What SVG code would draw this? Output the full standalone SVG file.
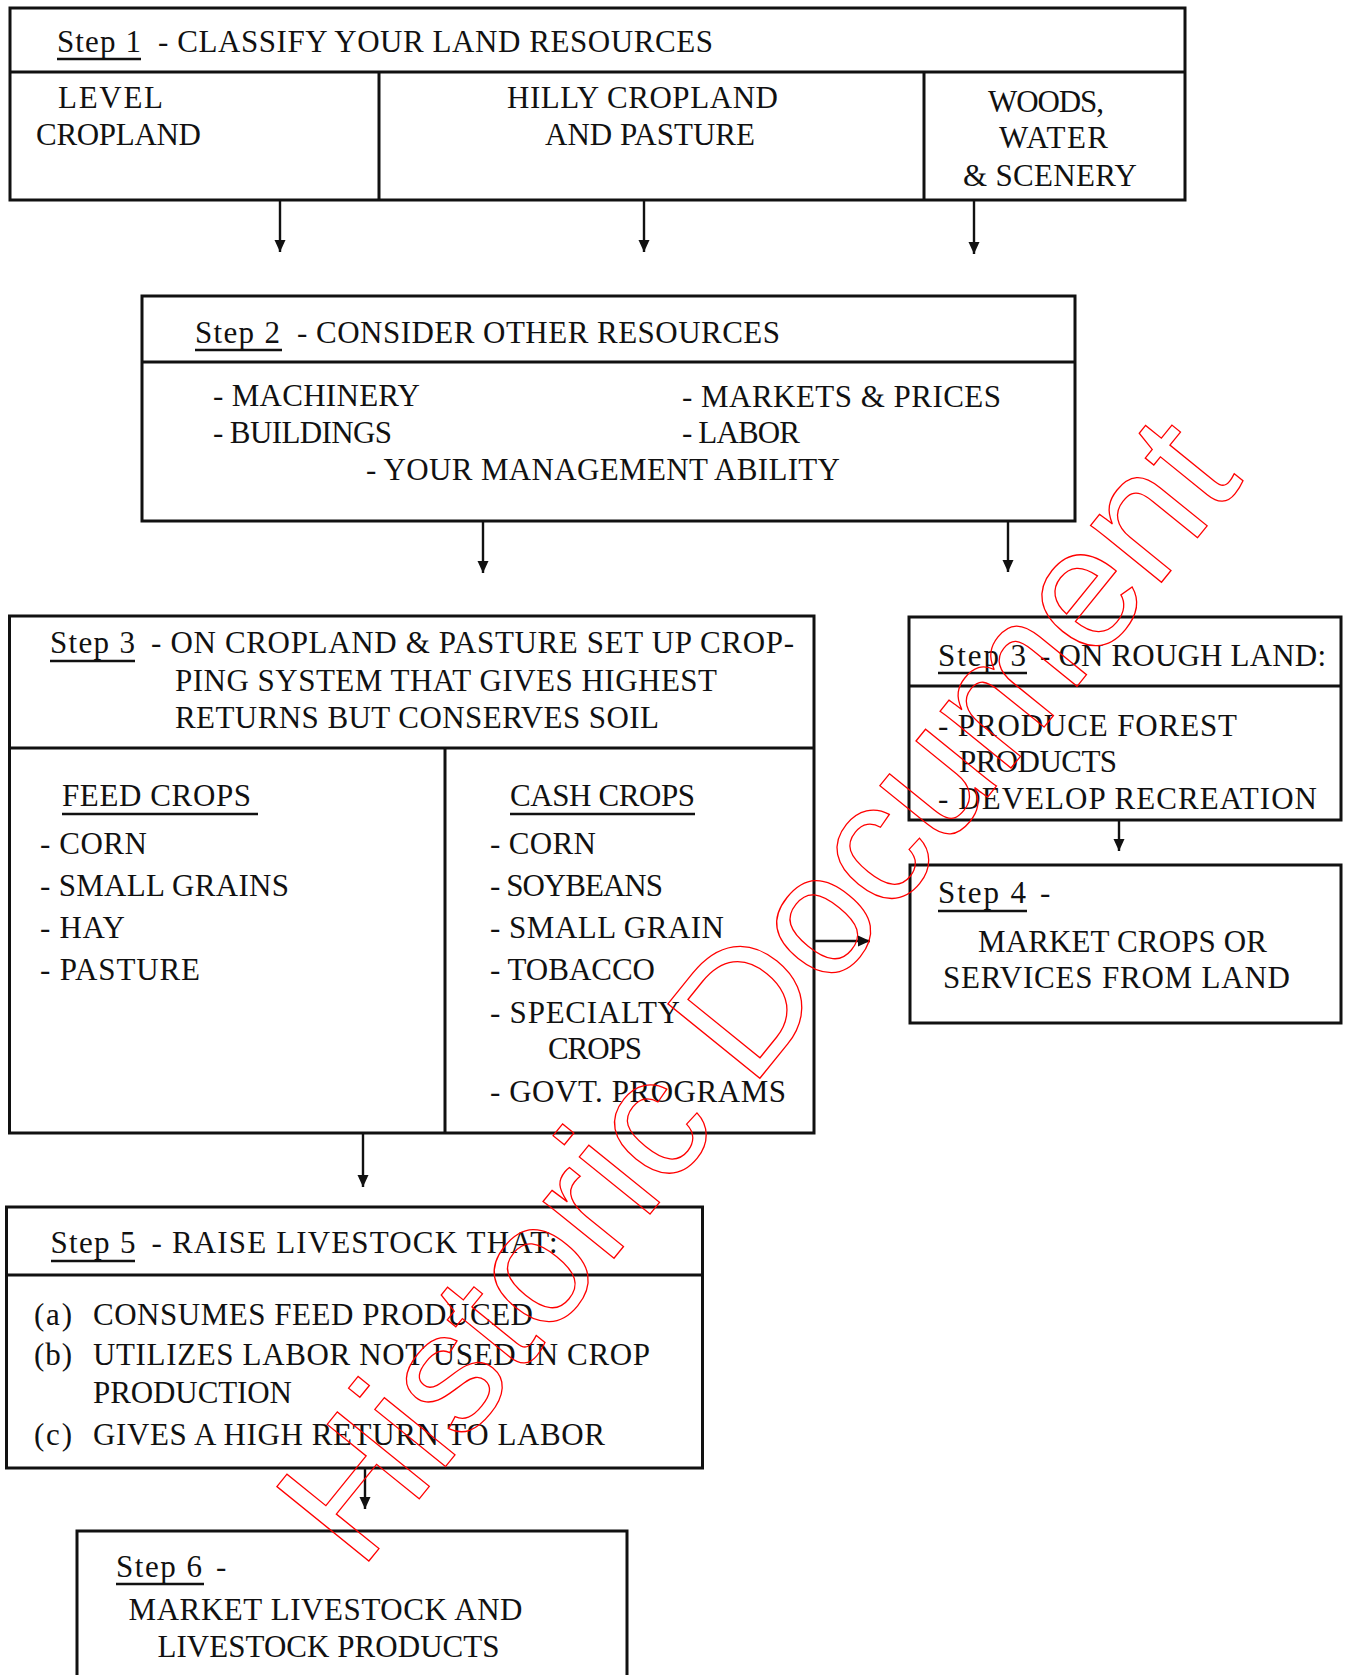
<svg xmlns="http://www.w3.org/2000/svg" width="1346" height="1675" viewBox="0 0 1346 1675">
<defs>
<style>
.box{fill:none;stroke:#111;stroke-width:3}
.ln{stroke:#111;stroke-width:3;fill:none}
.t{font-family:"Liberation Serif","Times New Roman",serif;font-size:31px;fill:#111}
.ul{stroke:#111;stroke-width:2.5}
.con{stroke:#111;stroke-width:2.4;fill:none;marker-end:url(#ah)}
.wm{font-family:"Liberation Sans",Arial,sans-serif;font-size:172px;fill:none;stroke:#ff0000;stroke-width:1.3}
</style>
<marker id="ah" markerUnits="userSpaceOnUse" markerWidth="13" markerHeight="12" refX="12" refY="6" orient="auto">
<path d="M0,0.5 L12,6 L0,11.5 Z" fill="#111"/>
</marker>
</defs>
<rect width="1346" height="1675" fill="#fff"/>

<g id="step1">
<rect class="box" x="10" y="8" width="1175" height="192"/>
<line class="ln" x1="10" y1="72" x2="1185" y2="72"/>
<line class="ln" x1="379" y1="72" x2="379" y2="200"/>
<line class="ln" x1="924" y1="72" x2="924" y2="200"/>
<text class="t" x="57" y="52" textLength="84">Step 1</text>
<line class="ul" x1="57" y1="59" x2="141" y2="59"/>
<text class="t" x="158" y="52" textLength="555">- CLASSIFY YOUR LAND RESOURCES</text>
<text class="t" x="58" y="108" textLength="105">LEVEL</text>
<text class="t" x="36" y="145" textLength="165">CROPLAND</text>
<text class="t" x="507" y="108" textLength="271">HILLY CROPLAND</text>
<text class="t" x="545" y="145" textLength="210">AND PASTURE</text>
<text class="t" x="988" y="112" textLength="116">WOODS,</text>
<text class="t" x="999" y="148" textLength="109">WATER</text>
<text class="t" x="963" y="186" textLength="174">&amp; SCENERY</text>
</g>

<g id="step2">
<rect class="box" x="142" y="296" width="933" height="225"/>
<line class="ln" x1="142" y1="362" x2="1075" y2="362"/>
<text class="t" x="195" y="343" textLength="85">Step 2</text>
<line class="ul" x1="195" y1="350" x2="282" y2="350"/>
<text class="t" x="297" y="343" textLength="483">- CONSIDER OTHER RESOURCES</text>
<text class="t" x="213" y="406" textLength="207">- MACHINERY</text>
<text class="t" x="213" y="443" textLength="179">- BUILDINGS</text>
<text class="t" x="366" y="480" textLength="474">- YOUR MANAGEMENT ABILITY</text>
<text class="t" x="682" y="407" textLength="319">- MARKETS &amp; PRICES</text>
<text class="t" x="682" y="443" textLength="118">- LABOR</text>
</g>

<g id="step3-cropland">
<rect class="box" x="9.5" y="616" width="804.5" height="517"/>
<line class="ln" x1="9.5" y1="748" x2="814" y2="748"/>
<line class="ln" x1="445" y1="748" x2="445" y2="1133"/>
<text class="t" x="50" y="653" textLength="85">Step 3</text>
<line class="ul" x1="50" y1="661" x2="135" y2="661"/>
<text class="t" x="151" y="653" textLength="643">- ON CROPLAND &amp; PASTURE SET UP CROP-</text>
<text class="t" x="175" y="691" textLength="542">PING SYSTEM THAT GIVES HIGHEST</text>
<text class="t" x="175" y="728" textLength="484">RETURNS BUT CONSERVES SOIL</text>
<text class="t" x="62" y="806" textLength="189">FEED CROPS</text>
<line class="ul" x1="62" y1="814" x2="258" y2="814"/>
<text class="t" x="40" y="854" textLength="107">- CORN</text>
<text class="t" x="40" y="896" textLength="249">- SMALL GRAINS</text>
<text class="t" x="40" y="938" textLength="85">- HAY</text>
<text class="t" x="40" y="980" textLength="160">- PASTURE</text>
<text class="t" x="510" y="806" textLength="185">CASH CROPS</text>
<line class="ul" x1="510" y1="814" x2="695" y2="814"/>
<text class="t" x="490" y="854" textLength="106">- CORN</text>
<text class="t" x="490" y="896" textLength="173">- SOYBEANS</text>
<text class="t" x="490" y="938" textLength="234">- SMALL GRAIN</text>
<text class="t" x="490" y="980" textLength="165">- TOBACCO</text>
<text class="t" x="490" y="1023" textLength="190">- SPECIALTY</text>
<text class="t" x="548" y="1059" textLength="94">CROPS</text>
<text class="t" x="490" y="1102" textLength="296">- GOVT. PROGRAMS</text>
</g>

<g id="step3-rough">
<rect class="box" x="909" y="617" width="432" height="203"/>
<line class="ln" x1="909" y1="686" x2="1341" y2="686"/>
<text class="t" x="938" y="666" textLength="88">Step 3</text>
<line class="ul" x1="938" y1="673" x2="1027" y2="673"/>
<text class="t" x="1040" y="666" textLength="286">- ON ROUGH LAND:</text>
<text class="t" x="938" y="736" textLength="299">- PRODUCE FOREST</text>
<text class="t" x="959" y="772" textLength="158">PRODUCTS</text>
<text class="t" x="938" y="809" textLength="379">- DEVELOP RECREATION</text>
</g>

<g id="step4">
<rect class="box" x="910" y="865" width="431" height="158"/>
<text class="t" x="938" y="903" textLength="88">Step 4</text>
<line class="ul" x1="938" y1="911" x2="1027" y2="911"/>
<text class="t" x="1040" y="903">-</text>
<text class="t" x="978" y="952" textLength="289">MARKET CROPS OR</text>
<text class="t" x="943" y="988" textLength="347">SERVICES FROM LAND</text>
</g>

<g id="step5">
<rect class="box" x="6.5" y="1207" width="696" height="261"/>
<line class="ln" x1="6.5" y1="1275" x2="702.5" y2="1275"/>
<text class="t" x="50.5" y="1253" textLength="85">Step 5</text>
<line class="ul" x1="51" y1="1261" x2="135" y2="1261"/>
<text class="t" x="151.5" y="1253" textLength="406">- RAISE LIVESTOCK THAT:</text>
<text class="t" x="34" y="1325" textLength="38">(a)</text>
<text class="t" x="93" y="1325" textLength="440">CONSUMES FEED PRODUCED</text>
<text class="t" x="34" y="1365" textLength="38">(b)</text>
<text class="t" x="93" y="1365" textLength="557">UTILIZES LABOR NOT USED IN CROP</text>
<text class="t" x="93" y="1403" textLength="199">PRODUCTION</text>
<text class="t" x="34" y="1445" textLength="38">(c)</text>
<text class="t" x="93" y="1445" textLength="512">GIVES A HIGH RETURN TO LABOR</text>
</g>

<g id="step6">
<polyline class="ln" points="77,1690 77,1531 627,1531 627,1690"/>
<text class="t" x="116" y="1577" textLength="86">Step 6</text>
<line class="ul" x1="116" y1="1584" x2="204" y2="1584"/>
<text class="t" x="216" y="1577">-</text>
<text class="t" x="128.5" y="1620" textLength="394">MARKET LIVESTOCK AND</text>
<text class="t" x="157.5" y="1657" textLength="342">LIVESTOCK PRODUCTS</text>
</g>

<g id="connectors">
<line class="con" x1="280" y1="200" x2="280" y2="252"/>
<line class="con" x1="644" y1="200" x2="644" y2="252"/>
<line class="con" x1="974" y1="200" x2="974" y2="254"/>
<line class="con" x1="483" y1="521" x2="483" y2="573"/>
<line class="con" x1="1008" y1="521" x2="1008" y2="572"/>
<line class="con" x1="814" y1="941" x2="870" y2="941"/>
<line class="con" x1="1119" y1="820" x2="1119" y2="851"/>
<line class="con" x1="363" y1="1133" x2="363" y2="1187"/>
<line class="con" x1="365" y1="1468" x2="365" y2="1509"/>
</g>

<g id="watermark">
<text class="wm" x="360" y="1572" transform="rotate(-51 360 1572)">Historic Document</text>
</g>
</svg>
